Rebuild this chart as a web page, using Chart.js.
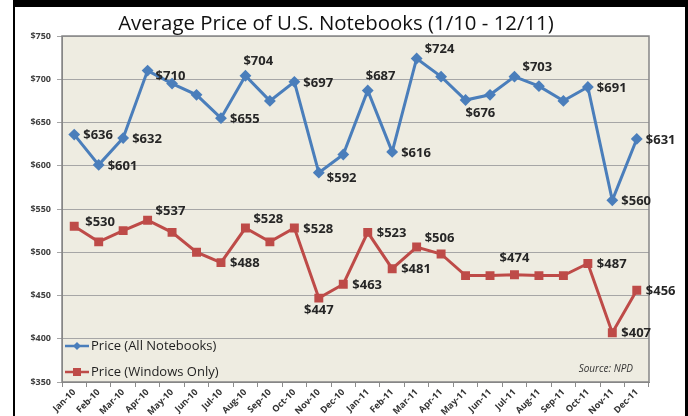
<!DOCTYPE html>
<html>
<head>
<meta charset="utf-8">
<script src="https://cdn.jsdelivr.net/npm/chart.js@4.4.1/dist/chart.umd.min.js"></script>
<style>
  html, body { margin: 0; padding: 0; background: #fff; }
  #wrap { position: relative; width: 688px; height: 416px; overflow: hidden; }
  #frame { position: absolute; left: 13px; top: 0; width: 675px; height: 430px; box-sizing: border-box;
           border-top: 7px solid #000; border-left: 2px solid #000; border-right: 3px solid #000; }
  #priceChart { position: absolute; left: 0; top: 0; }
</style>
</head>
<body>
<div id="wrap">
  <div id="frame"></div>
  <canvas id="priceChart" width="688" height="416"></canvas>
</div>
<script>
const months = ['Jan-10', 'Feb-10', 'Mar-10', 'Apr-10', 'May-10', 'Jun-10', 'Jul-10', 'Aug-10', 'Sep-10', 'Oct-10', 'Nov-10', 'Dec-10',
                'Jan-11', 'Feb-11', 'Mar-11', 'Apr-11', 'May-11', 'Jun-11', 'Jul-11', 'Aug-11', 'Sep-11', 'Oct-11', 'Nov-11', 'Dec-11'];
const allNotebooks = [636, 601, 632, 710, 695, 682, 655, 704, 675, 697, 592, 613,
                      687, 616, 724, 703, 676, 682, 703, 692, 675, 691, 560, 631];
const windowsOnly = [530, 512, 525, 537, 523, 500, 488, 528, 512, 528, 447, 463,
                     523, 481, 506, 498, 473, 473, 474, 473, 473, 487, 407, 456];
const yTicks = [350, 400, 450, 500, 550, 600, 650, 700, 750];
const titleText = 'Average Price of U.S. Notebooks (1/10 - 12/11)';

// which points carry a value label, and where it sits (r = right, a = above, b = below ...)
const labelSpots = [
  ['r', 'r', 'r', 'rb', null, null, 'r', 'al', null, 'r', 'rb', null,
   'al', 'r', 'ar', null, 'bl', null, 'ar', null, null, 'r', 'r', 'r'],
  ['ra', null, null, 'ar', null, null, 'r', 'ar', null, 'r', 'b', 'r',
   'r', 'r', 'ar', null, null, null, 'a', null, null, 'r', 'r', 'r']
];
const spotOffsets = {
  r:  [9, 1, 'left'],
  rb: [8, 6, 'left'],
  ra: [11, -4, 'left'],
  ar: [8, -9, 'left'],
  al: [-2, -14, 'left'],
  a:  [0, -16, 'center'],
  b:  [0, 12, 'center'],
  bl: [0, 13, 'left']
};

const blue = '#4A7EBB';
const red = '#BE4B48';
const sans = "'Open Sans', 'DejaVu Sans', sans-serif";

// small line + marker pictures for the legend
function legendSymbol(color, style) {
  const c = document.createElement('canvas');
  c.width = 26; c.height = 12;
  const g = c.getContext('2d');
  g.strokeStyle = color; g.fillStyle = color; g.lineWidth = 2.5;
  g.beginPath(); g.moveTo(1, 6); g.lineTo(25, 6); g.stroke();
  if (style === 'rect') {
    g.fillRect(9, 2, 8, 8);
  } else {
    g.beginPath(); g.moveTo(13, 2); g.lineTo(17, 6); g.lineTo(13, 10); g.lineTo(9, 6); g.closePath(); g.fill();
  }
  return c;
}

const chartDecor = {
  id: 'chartDecor',
  beforeDraw(chart) {
    const { ctx, chartArea: a } = chart;
    ctx.save();
    ctx.fillStyle = '#EEECE1';
    ctx.fillRect(a.left, a.top, a.right - a.left, a.bottom - a.top);

    // title, sized to the width it has in the original
    ctx.font = '100px ' + sans;
    const size = Math.min(26, 100 * 435 / ctx.measureText(titleText).width);
    ctx.font = size.toFixed(1) + 'px ' + sans;
    ctx.fillStyle = '#111';
    ctx.textAlign = 'center';
    ctx.textBaseline = 'alphabetic';
    ctx.fillText(titleText, 336, 30);
    ctx.restore();
  },
  afterDatasetsDraw(chart) {
    const { ctx, chartArea: a } = chart;
    ctx.save();
    ctx.strokeStyle = '#868686';
    ctx.lineWidth = 1.5;
    ctx.strokeRect(a.left, a.top, a.right - a.left, a.bottom - a.top);

    // value labels
    ctx.font = 'bold 13px ' + sans;
    ctx.fillStyle = '#262626';
    ctx.textBaseline = 'middle';
    chart.data.datasets.forEach((ds, di) => {
      const meta = chart.getDatasetMeta(di);
      meta.data.forEach((pt, i) => {
        const spot = labelSpots[di][i];
        if (!spot) return;
        const [dx, dy, align] = spotOffsets[spot];
        ctx.textAlign = align;
        ctx.fillText('$' + ds.data[i], pt.x + dx, pt.y + dy);
      });
    });

    // legend in the lower left corner of the plot
    ctx.font = '13px ' + sans;
    ctx.textAlign = 'left';
    ctx.fillStyle = '#1f1f1f';
    const rows = [a.bottom - 36, a.bottom - 10];
    chart.data.datasets.forEach((ds, di) => {
      const y = rows[di];
      ctx.drawImage(ds.legendPic, a.left + 2, y - 6);
      ctx.fillText(ds.label, a.left + 29, y);
    });

    ctx.font = 'italic 10px ' + sans;
    ctx.textAlign = 'right';
    ctx.fillStyle = '#333';
    ctx.fillText('Source: NPD', a.right - 16, a.bottom - 13);
    ctx.restore();
  }
};

const ctx = document.getElementById('priceChart').getContext('2d');
const priceChart = new Chart(ctx, {
  type: 'line',
  data: {
    labels: months,
    datasets: [{
      label: 'Price (All Notebooks)',
      data: allNotebooks,
      borderColor: blue,
      backgroundColor: blue,
      borderWidth: 3,
      pointStyle: 'rectRot',
      pointRadius: 3.8,
      tension: 0,
      legendPic: legendSymbol(blue, 'rectRot')
    }, {
      label: 'Price (Windows Only)',
      data: windowsOnly,
      borderColor: red,
      backgroundColor: red,
      borderWidth: 3,
      pointStyle: 'rect',
      pointRadius: 4.2,
      tension: 0,
      legendPic: legendSymbol(red, 'rect')
    }]
  },
  options: {
    responsive: false,
    animation: false,
    layout: { padding: { left: 14, right: 39, top: 36, bottom: 0 } },
    plugins: {
      title: { display: false },
      legend: { display: false },
      tooltip: { enabled: false }
    },
    scales: {
      x: {
        offset: true,
        grid: { offset: true, drawOnChartArea: false, drawTicks: true, tickLength: 5, color: '#8c8c8c' },
        border: { color: '#868686' },
        ticks: { autoSkip: false, maxRotation: 45, minRotation: 45, padding: 0, color: '#333',
                 font: { family: sans, size: 9, weight: 'bold' } },
        afterFit: s => { s.height = 34; }
      },
      y: {
        min: yTicks[0],
        max: yTicks[yTicks.length - 1],
        grid: { color: '#a6a6a6', tickLength: 5 },
        border: { color: '#868686' },
        ticks: { stepSize: yTicks[1] - yTicks[0], padding: 6, color: '#404040',
                 font: { family: sans, size: 9, weight: 'bold' },
                 callback: v => '$' + v },
        afterFit: s => { s.width = 48; }
      }
    }
  },
  plugins: [chartDecor]
});
</script>
</body>
</html>
